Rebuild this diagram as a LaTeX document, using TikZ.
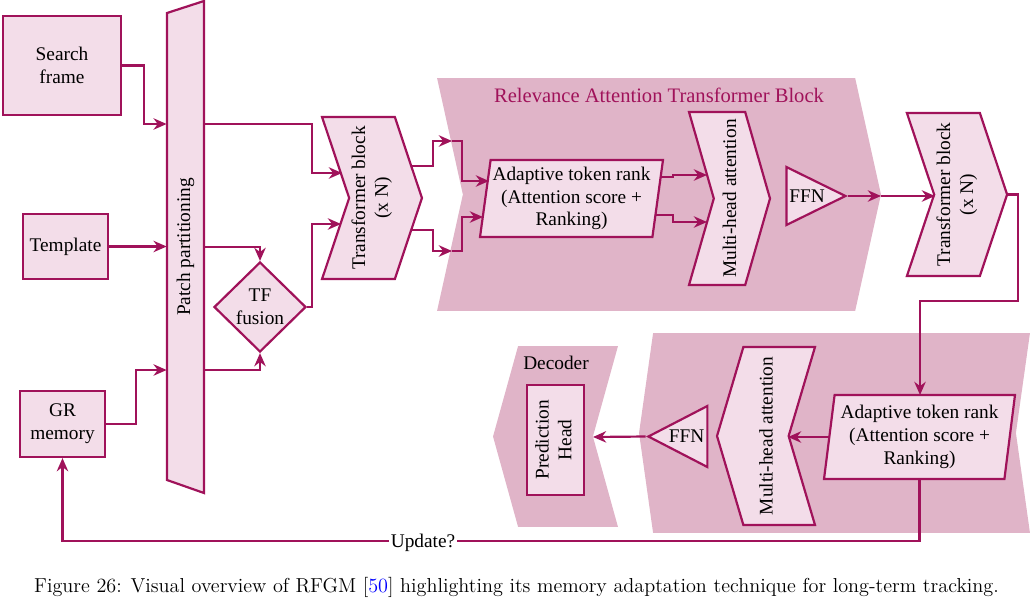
\documentclass[tikz,border=0pt]{standalone}
\usepackage{fontspec}
\usepackage{xcolor}
\usepackage{tikz}
\usetikzlibrary{shapes.geometric,shapes.symbols,arrows.meta}
\newfontfamily\tnr{Liberation Serif}
\definecolor{rfline}{RGB}{160,18,90}
\definecolor{rfnode}{RGB}{243,221,233}
\definecolor{rfband}{RGB}{224,180,200}
\begin{document}
\begin{tikzpicture}[x=0.02cm,y=-0.02cm,font=\tnr\fontsize{11}{13}\selectfont,every node/.style={align=center},
  box/.style={draw=rfline,fill=rfnode,line width=1.25pt},
  band/.style={fill=rfband,signal,inner sep=0pt},
  chev/.style={box,signal,inner sep=0pt},
  arr/.style={draw=rfline,line width=1.25pt,-{Stealth[length=7.5pt,width=6.5pt]}}]
\useasboundingbox (0,0) rectangle (1033,602);
% bands
\node[band,signal to=east,signal from=west,signal pointer angle=155,minimum width=8.88cm,minimum height=4.66cm] (rat) at (659,194.5) {};
\node[band,signal to=west,signal from=east,signal pointer angle=164,minimum width=7.82cm,minimum height=4cm] (rat2) at (834.5,433) {};
\node[band,signal to=west,signal from=east,signal pointer angle=149,minimum width=2.5cm,minimum height=3.62cm] (dec) at (555.5,436.5) {};
\node[text=rfline,font=\tnr\fontsize{11.7}{13}\selectfont] (ratlbl) at (659,95) {Relevance Attention Transformer Block};
\node (declbl) at (556,363) {Decoder};
% inputs
\node[box,minimum width=2.36cm,minimum height=1.98cm] (sf) at (62,65.5) {Search\\frame};
\node[box,minimum width=1.7cm,minimum height=1.3cm] (tpl) at (65.5,246.5) {Template};
\node[box,minimum width=1.7cm,minimum height=1.32cm] (grm) at (62.5,424) {GR\\memory};
\draw[box] (167,13) -- (204,1) -- (204,493) -- (167,480) -- cycle;
\node[minimum width=0.74cm,minimum height=9.6cm,inner sep=0pt] (pp) at (185.5,247) {\rotatebox{90}{Patch partitioning}};
\node[box,diamond,minimum width=1.84cm,minimum height=1.8cm,inner sep=0pt] (tf) at (260,307) {TF\\fusion};
% encoder
\node[chev,signal to=east,signal from=west,signal pointer angle=143,minimum width=1.96cm,minimum height=3.24cm] (tb1) at (372,198) {\rotatebox{90}{\begin{tabular}{@{}c@{}}Transformer block\\(x N)\end{tabular}}};
\node[box,trapezium,trapezium left angle=81,trapezium right angle=99,trapezium stretches body,minimum width=3.66cm,minimum height=1.54cm,inner sep=1pt] (atr1) at (571.5,198.5) {Adaptive token rank\\(Attention score +\\Ranking)};
\node[chev,signal to=east,signal from=west,signal pointer angle=148,minimum width=1.62cm,minimum height=3.46cm] (mha1) at (729.5,198.5) {\rotatebox{90}{Multi-head attention}};
\node[box,isosceles triangle,isosceles triangle stretches,minimum width=1.16cm,minimum height=1.18cm,inner sep=1pt] (ffn1) at (807,196) {FFN};
\node[chev,signal to=east,signal from=west,signal pointer angle=143,minimum width=1.96cm,minimum height=3.26cm] (tb2) at (957,194.5) {\rotatebox{90}{\begin{tabular}{@{}c@{}}Transformer block\\(x N)\end{tabular}}};
% decoder side
\node[box,trapezium,trapezium left angle=81,trapezium right angle=99,trapezium stretches body,minimum width=3.82cm,minimum height=1.68cm,inner sep=1pt] (atr2) at (919.5,437) {Adaptive token rank\\(Attention score +\\Ranking)};
\node[chev,signal to=west,signal from=east,signal pointer angle=147,minimum width=1.96cm,minimum height=3.56cm] (mha2) at (766,436) {\rotatebox{90}{Multi-head attention}};
\node[box,isosceles triangle,isosceles triangle stretches,shape border rotate=180,minimum width=1.22cm,minimum height=1.18cm,inner sep=1pt] (ffn2) at (686.5,436.5) {FFN};
\node[box,minimum width=1.14cm,minimum height=2.2cm,inner sep=0pt] (ph) at (555.5,440) {\rotatebox{90}{\begin{tabular}{@{}c@{}}Prediction\\Head\end{tabular}}};
% connectors
\draw[arr] (sf.east) -| (144,124) -- (pp.west |- 0,124);
\draw[arr] (tpl) -- (tpl -| pp.west);
\draw[arr] (grm.east) -| (136,370) -- (pp.west |- 0,370);
\draw[arr] (pp.east |- 0,124) -| (312,173) -- (342,173);
\draw[arr] (pp.east |- 0,247) -| (tf.north);
\draw[arr] (pp.east |- 0,370) -| (tf.south);
\draw[arr] (tf.east) -| (312,224) -- (341,224);
\draw[arr] (411,166) -| (433,141) -- (452,141);
\draw[arr] (452,141) -| (462,181) -- (489,181);
\draw[arr] (412,230) -| (433,251) -- (452,251);
\draw[arr] (452,251) -| (462,217) -- (483,217);
\draw[arr] (660,177) -| (673,175) -- (707,175);
\draw[arr] (655,215) -| (673,222) -- (707,222);
\draw[arr] (ffn1.east) -- (881,196);
\draw[arr] (881,196) -- (935,196);
\draw[arr] (tb2.east) -| (1018,301) -| (920,395);
\draw[arr] (830,437) -- (788,437);
\draw[arr] (ffn2.west) -- (593,437);
\draw[arr] (atr2.south) |- (grm.south |- 0,541) -- (grm.south);
\node[fill=white,inner sep=1pt] (upd) at (423,543) {Update?};
\node[font=\normalfont\fontsize{11.5}{13}\selectfont] (cap) at (516.5,587) {Figure 26: Visual overview of RFGM [\textcolor{blue}{50}] highlighting its memory adaptation technique for long-term tracking.};
\end{tikzpicture}
\end{document}
